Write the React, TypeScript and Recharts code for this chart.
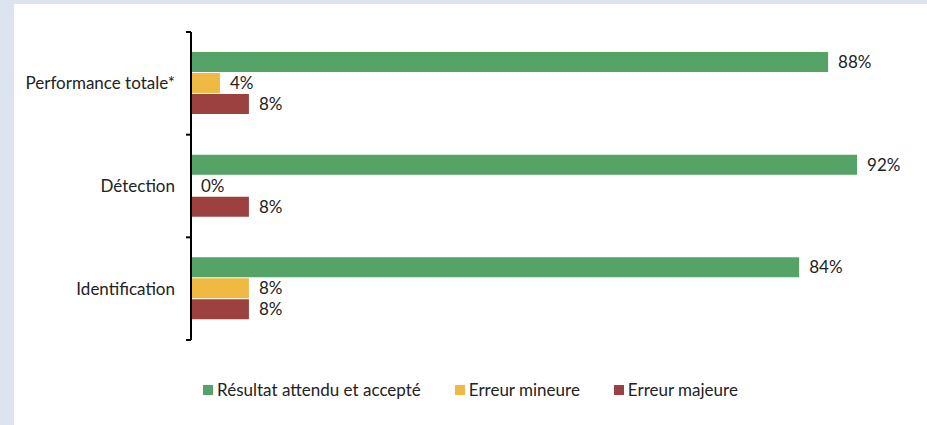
import { BarChart, Bar, XAxis, YAxis, LabelList, Legend } from 'recharts';

const categories = ['Performance totale*', 'Détection', 'Identification'];
const attendu = [88, 92, 84];
const mineure = [4, 0, 8];
const majeure = [8, 8, 8];

const SERIES = [
  { key: 'attendu', name: 'Résultat attendu et accepté', color: '#55a366' },
  { key: 'mineure', name: 'Erreur mineure', color: '#f0b944' },
  { key: 'majeure', name: 'Erreur majeure', color: '#9d4040' },
];

const data = categories.map((name, i) => ({
  name,
  attendu: attendu[i],
  mineure: mineure[i],
  majeure: majeure[i],
}));

const FONT = 'Lato, sans-serif';
const FS = 17;
const W = 913;
const H = 421;
const MARGIN = { top: 28, right: 12, left: 0, bottom: 68 };
const AXIS_W = 177;
const LEGEND_H = 17;
const plotH = H - MARGIN.top - MARGIN.bottom - LEGEND_H;
const band = plotH / categories.length;

function CategoryTick(props: any) {
  const { y, payload, index } = props;
  const ax = MARGIN.left + AXIS_W;
  return (
    <g>
      <line x1={ax - 5} x2={ax} y1={y - band / 2} y2={y - band / 2} stroke="#000" strokeWidth={2} />
      {index === categories.length - 1 && (
        <line x1={ax - 5} x2={ax} y1={y + band / 2} y2={y + band / 2} stroke="#000" strokeWidth={2} />
      )}
      <text x={ax - 16} y={y} dy={6} textAnchor="end" fill="#222" fontSize={FS} fontFamily={FONT}>
        {payload.value}
      </text>
    </g>
  );
}

function LegendContent() {
  return (
    <div style={{ display: 'flex', justifyContent: 'center', gap: 34, fontFamily: FONT, fontSize: FS, color: '#222', height: LEGEND_H, alignItems: 'center' }}>
      {SERIES.map((s) => (
        <div key={s.key} style={{ display: 'flex', alignItems: 'center', gap: 4 }}>
          <span style={{ width: 10, height: 10, background: s.color, display: 'inline-block' }} />
          <span>{s.name}</span>
        </div>
      ))}
    </div>
  );
}

export default function App() {
  return (
    <div style={{ position: 'absolute', left: 0, top: 0, width: 927, height: 425, background: '#dce4f2', overflow: 'hidden' }}>
      <div style={{ position: 'absolute', left: 14, top: 4, width: W, height: H, background: '#fff' }}>
        <BarChart width={W} height={H} data={data} layout="vertical" margin={MARGIN} barSize={20} barGap={1}>
          <XAxis type="number" domain={[0, 100]} hide />
          <YAxis
            type="category"
            dataKey="name"
            width={AXIS_W}
            axisLine={{ stroke: '#000', strokeWidth: 2 }}
            tickLine={false}
            tick={<CategoryTick />}
            interval={0}
          />
          {SERIES.map((s) => (
            <Bar
              key={s.key}
              dataKey={s.key}
              name={s.name}
              fill={s.color}
              minPointSize={(v: any) => (v === 0 ? 0.01 : 0)}
              isAnimationActive={false}
            >
              <LabelList
                dataKey={s.key}
                position="right"
                offset={10}
                formatter={(v: any) => `${v}%`}
                fill="#222"
                fontSize={FS}
                fontFamily={FONT}
              />
            </Bar>
          ))}
          <Legend content={<LegendContent />} wrapperStyle={{ left: 0, top: 377, width: W, height: LEGEND_H }} />
        </BarChart>
      </div>
    </div>
  );
}
